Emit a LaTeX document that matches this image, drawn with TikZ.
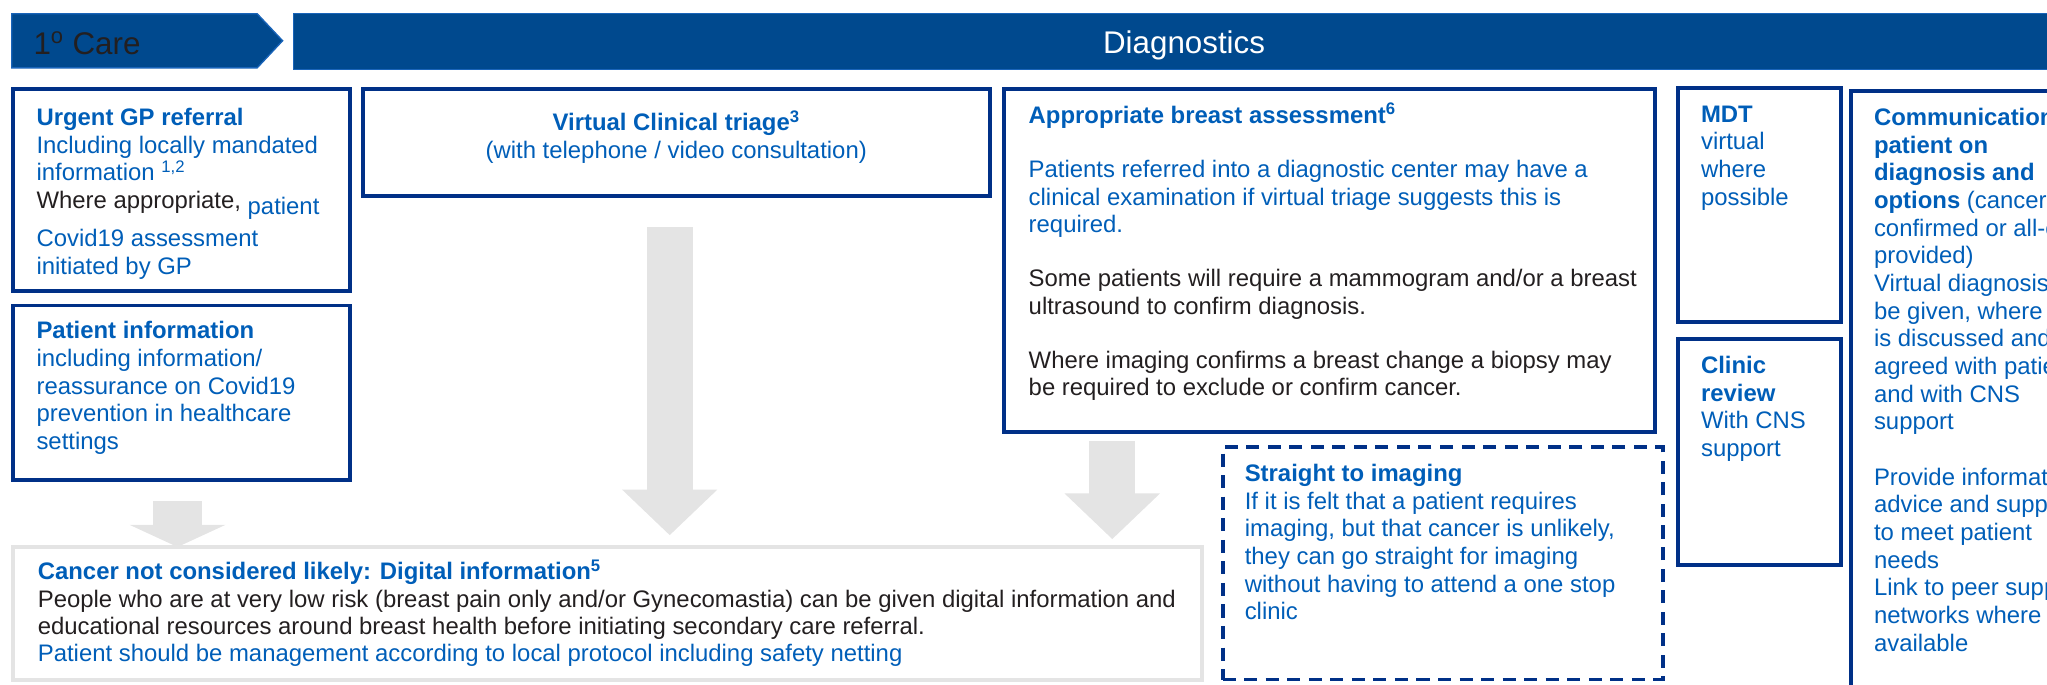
\documentclass[tikz,border=0pt]{standalone}
\usepackage{fontspec}
\setmainfont{Liberation Sans}
\usetikzlibrary{arrows.meta, positioning, calc}

\definecolor{hdrblue}{RGB}{0,73,142}
\definecolor{hdredge}{RGB}{25,100,185}
\definecolor{boxblue}{RGB}{0,48,135}
\definecolor{txtblue}{RGB}{0,94,184}
\definecolor{txtdark}{RGB}{35,31,32}
\definecolor{arrowgrey}{RGB}{228,228,228}

\tikzset{
  panel/.style={draw=boxblue, line width=3pt, anchor=north west, inner sep=0pt, outer sep=0pt},
  dashpanel/.style={panel, dash pattern=on 10pt off 6.5pt},
  greypanel/.style={panel, draw=arrowgrey},
  body/.style={anchor=north west, inner sep=0pt, outer sep=0pt, align=left, text=txtblue,
    font=\fontsize{18.3}{21.2}\selectfont},
  headfont/.style={font=\fontsize{24}{28}\selectfont},
  blockarrow/.style={draw=arrowgrey, line width=35pt, -{Triangle[length=35pt, width=71pt]}},
}

\begin{document}
\begin{tikzpicture}[x=1pt, y=-1pt]
\useasboundingbox (0,0) rectangle (1568,524);

% Header: primary care chevron and diagnostics bar
\draw[fill=hdrblue, draw=hdredge, line width=1pt] (9,10.5) -- (197,10.5) -- (216.5,31.2) -- (197,52) -- (9,52) -- cycle;
\node[anchor=base west, inner sep=0pt, text=txtdark, headfont] (care) at (25.5,42) {1\textsuperscript{o} Care};
\node[panel, draw=hdredge, line width=1pt, fill=hdrblue, minimum width=1364pt, minimum height=43pt] (diag) at (225,10.5) {};
\node[anchor=base, inner sep=0pt, text=white, headfont] (diaglabel) at ($(diag.north)+(0,30.5)$) {Diagnostics};

% First column
\node[panel, minimum width=258pt, minimum height=155pt] (gpref) at (10,68) {};
\node[body, below right=13.2pt and 18pt of gpref.north west] (gptext) {\strut\textbf{Urgent GP referral}\\
  Including locally mandated\\
  information \textsuperscript{1,2}\\
  {\color{txtdark}Where appropriate,} \raisebox{-5pt}{patient}\\[6.5pt]
  Covid19 assessment\\
  initiated by GP};

\node[panel, minimum width=258pt, minimum height=134pt] (patinfo) at (10,234) {};
\node[body, below right=10.7pt and 18pt of patinfo.north west] (patinfotext) {\strut\textbf{Patient information}\\
  including information/\\
  reassurance on Covid19\\
  prevention in healthcare\\
  settings};

% Triage
\node[panel, minimum width=480pt, minimum height=82pt] (triage) at (278,68) {};
\node[body, align=center, below=17.2pt of triage.north] (triagetext) {\strut\textbf{Virtual Clinical triage\smash{\textsuperscript{3}}}\\
  (with telephone / video consultation)};

% Assessment
\node[panel, minimum width=499pt, minimum height=263pt] (assess) at (769,68) {};
\node[body, below right=11.7pt and 19pt of assess.north west, font=\fontsize{18.3}{20.9}\selectfont] (assesstext) {\strut\textbf{Appropriate breast assessment\smash{\textsuperscript{6}}}\\[20.9pt]
  Patients referred into a diagnostic center may have a\\
  clinical examination if virtual triage suggests this is\\
  required.\\[20.9pt]
  {\color{txtdark}Some patients will require a mammogram and/or a breast}\\
  {\color{txtdark}ultrasound to confirm diagnosis.}\\[20.9pt]
  {\color{txtdark}Where imaging confirms a breast change a biopsy may}\\
  {\color{txtdark}be required to exclude or confirm cancer.}};

% MDT and clinic review
\node[panel, minimum width=125pt, minimum height=179pt] (mdt) at (1285.5,67.6) {};
\node[body, below right=11.2pt and 17.5pt of mdt.north west] (mdttext) {\strut\textbf{MDT}\\
  virtual\\
  where\\
  possible};

\node[panel, minimum width=125pt, minimum height=173.5pt] (clinic) at (1285.5,259.5) {};
\node[body, below right=11.7pt and 17.5pt of clinic.north west] (clinictext) {\strut\textbf{Clinic}\\
  \textbf{review}\\
  With CNS\\
  support};

% Communication (runs off the page)
\node[panel, minimum width=200pt, minimum height=480pt] (comm) at (1418,70) {};
\node[body, below right=11.2pt and 17.5pt of comm.north west] (commtext) {\strut\textbf{Communication}\\
  \textbf{patient on}\\
  \textbf{diagnosis and}\\
  \textbf{options} (cancer\\
  confirmed or all-clear\\
  provided)\\
  Virtual diagnosis may\\
  be given, where this\\
  is discussed and\\
  agreed with patient\\
  and with CNS\\
  support\\[21.2pt]
  Provide information,\\
  advice and support\\
  to meet patient\\
  needs\\
  Link to peer support\\
  networks where\\
  available};

% Straight to imaging
\node[dashpanel, minimum width=337.5pt, minimum height=178pt] (imaging) at (936.5,342.5) {};
\node[body, below right=11.5pt and 17pt of imaging.north west] (imagingtext) {\strut\textbf{Straight to imaging}\\
  If it is felt that a patient requires\\
  imaging, but that cancer is unlikely,\\
  they can go straight for imaging\\
  without having to attend a one stop\\
  clinic};

% Digital information
\node[greypanel, minimum width=911pt, minimum height=102pt] (digital) at (10,419) {};
\node[body, below right=10.5pt and 19pt of digital.north west, font=\fontsize{18.3}{20.9}\selectfont] (digitaltext) {\strut\textbf{Cancer not considered likely: Digital information\smash{\textsuperscript{5}}}\\
  {\color{txtdark}People who are at very low risk (breast pain only and/or Gynecomastia) can be given digital information and}\\
  {\color{txtdark}educational resources around breast health before initiating secondary care referral.}\\
  Patient should be management according to local protocol including safety netting};

% Grey block arrows
\draw[blockarrow, line width=38pt, -{Triangle[length=17pt, width=73pt]}]
  ($(patinfo.south)+(-3,16)$) -- ($(patinfo.south |- digital.north)+(-3,0)$);
\draw[blockarrow] ($(triage.south)+(-5,24)$) -- ($(triage.south |- digital.north)+(-5,-9)$);
\draw[blockarrow] ($(assess.south west)+(83,7)$) -- ($(assess.south west |- digital.north)+(83,-6)$);
\end{tikzpicture}
\end{document}
